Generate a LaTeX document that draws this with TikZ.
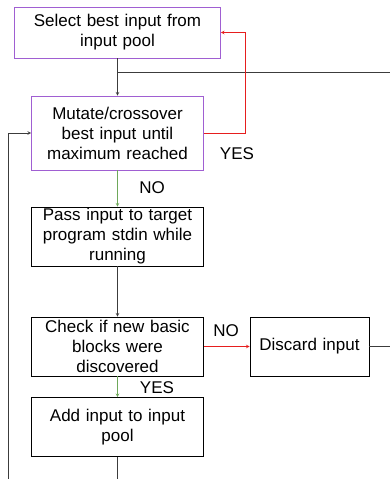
\documentclass[tikz,border=0pt]{standalone}
\usepackage{fontspec}
\setmainfont{Liberation Sans}
\usepackage{tikz}
\usetikzlibrary{arrows}
\definecolor{boxpurple}{RGB}{160,95,210}
\definecolor{yesgreen}{RGB}{110,168,90}
\definecolor{nored}{RGB}{230,30,30}
\definecolor{lgrey}{RGB}{60,60,60}

\begin{document}
\begin{tikzpicture}[x=1pt,y=-1pt,>=stealth,
    stepbox/.style={draw=black,thick,fill=white,align=center,
      inner sep=0pt,font=\fontsize{17}{20}\selectfont,
      text width=#1,minimum height=59pt},
    stepbox/.default=172pt]
  \useasboundingbox (0,0) rectangle (390,479);

  \node[stepbox=206pt,draw=boxpurple,minimum height=51pt] (select) at (117.5,32.5)
    {Select best input from\\input pool};
  \node[stepbox,draw=boxpurple,minimum height=74pt] (mutate) at (117.5,133)
    {Mutate/crossover\\best input until\\maximum reached};
  \node[stepbox] (pass) at (117.5,236.5)
    {Pass input to target\\program stdin while\\running};
  \node[stepbox] (check) at (117.5,346.5)
    {Check if new basic\\blocks were\\discovered};
  \node[stepbox=119pt] (discard) at (309.5,346.5) {Discard input};
  \node[stepbox] (add) at (117.5,427)
    {Add input to input\\pool};

  % free ends of the lines leaving the picture
  \coordinate (split) at (select.south |- 0,72);
  \coordinate (rightA) at (390,72);
  \coordinate (rightB) at (390,346.5);
  \coordinate (bottomA) at (add.south |- 0,479);
  \coordinate (bottomB) at (8,479);
  \coordinate (loopin) at (8,133);
  \coordinate (backup) at (245,133);

  \begin{scope}[semithick,lgrey]
      \draw[->] (select) -- (mutate);
      \draw (split) -- (rightA);
      \draw[->] (pass) -- (check);
      \draw (discard) -- (rightB);
      \draw (add) -- (bottomA);
      \draw[->] (bottomB) -- (loopin) -- (mutate);
  \end{scope}
  \begin{scope}[semithick,nored]
      % back to the pool:
      \draw[->] (mutate.east) -- (backup) |- (select.east);
      \draw[->] (check) -- (discard);
  \end{scope}
  \begin{scope}[semithick,yesgreen]
      \draw[->] (mutate) -- (pass);
      \draw[->] (check) -- (add);
  \end{scope}

  \begin{scope}[font=\fontsize{17}{20}\selectfont]
      \node (yes1) at (237,154) {YES};
      \node (no1) at (152,188) {NO};
      \node (no2) at (226,331) {NO};
      \node (yes2) at (157,388) {YES};
  \end{scope}
\end{tikzpicture}
\end{document}
